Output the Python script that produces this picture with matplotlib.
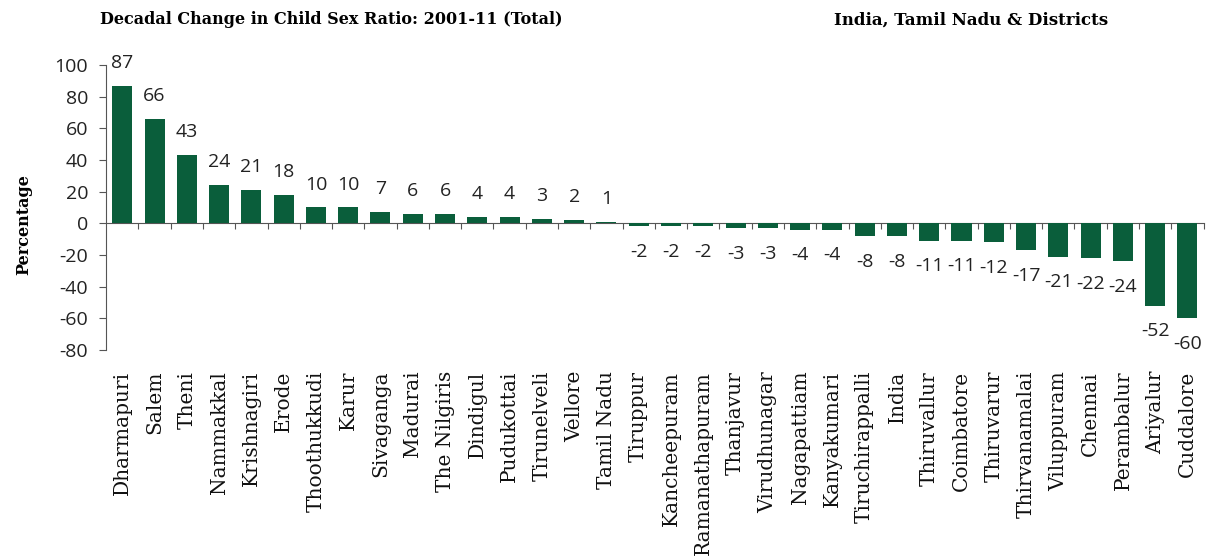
import matplotlib.pyplot as plt

districts = ["Dharmapuri", "Salem", "Theni", "Nammakkal", "Krishnagiri", "Erode",
             "Thoothukkudi", "Karur", "Sivaganga", "Madurai", "The Nilgiris", "Dindigul",
             "Pudukottai", "Tirunelveli", "Vellore", "Tamil Nadu", "Tiruppur",
             "Kancheepuram", "Ramanathapuram", "Thanjavur", "Virudhunagar", "Nagapattiam",
             "Kanyakumari", "Tiruchirappalli", "India", "Thiruvallur", "Coimbatore",
             "Thiruvarur", "Thirvanamalai", "Viluppuram", "Chennai", "Perambalur",
             "Ariyalur", "Cuddalore"]
change = [87, 66, 43, 24, 21, 18, 10, 10, 7, 6, 6, 4, 4, 3, 2, 1,
          -2, -2, -2, -3, -3, -4, -4, -8, -8, -11, -11, -12, -17, -21, -22, -24, -52, -60]
yticks = [-80, -60, -40, -20, 0, 20, 40, 60, 80, 100]

green = "#0a5e3b"
serif = "DejaVu Serif"
sans = "Open Sans"

fig = plt.figure(figsize=(12.06, 5.6), dpi=100)
ax = fig.add_axes([0.088, 0.375, 0.91, 0.509])

x = list(range(len(districts)))
ax.bar(x, change, width=0.62, color=green, zorder=2)

for xi, v in zip(x, change):
    off = 10 if v >= 0 else -12
    ax.annotate(str(v), (xi, v), xytext=(0, off), textcoords="offset points",
                ha="center", va="bottom" if v >= 0 else "top",
                fontsize=14, family=sans, color="#222222")

ax.set_xlim(-0.5, len(districts) - 0.5)
ax.set_ylim(-80, 100)
ax.set_yticks(yticks)
ax.set_yticklabels([str(t) for t in yticks], family=sans, fontsize=14, color="#222222")
ax.tick_params(axis="y", direction="out", length=5, color="#555555", pad=8)

ax.set_xticks(x)
ax.set_xticklabels(districts, rotation=90, family=serif, fontsize=14.5, color="#111111")
ax.tick_params(axis="x", length=0, pad=15)

for s in ["top", "right", "bottom"]:
    ax.spines[s].set_visible(False)
ax.spines["left"].set_color("#555555")

# zero line with small ticks between bars
zero = ax.secondary_xaxis(0, transform=ax.transData)
zero.set_xticks([i + 0.5 for i in x])
zero.tick_params(axis="x", direction="out", length=4, color="#555555", labelbottom=False)
zero.spines["bottom"].set_color("#555555")

ax.set_ylabel("Percentage", family=serif, fontweight="bold", fontsize=11.5)
ax.yaxis.set_label_coords(-0.067, 0.44)

fig.text(0.083, 0.965, "Decadal Change in Child Sex Ratio: 2001-11 (Total)",
         family=serif, fontweight="bold", fontsize=11.5, ha="left", va="center")
fig.text(0.919, 0.965, "India, Tamil Nadu & Districts",
         family=serif, fontweight="bold", fontsize=12, ha="right", va="center")

fig.savefig("out.png", dpi=100)
